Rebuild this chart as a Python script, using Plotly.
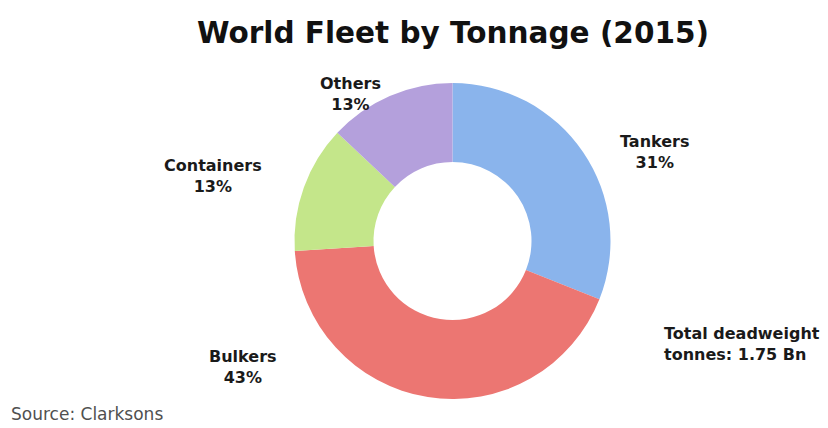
import plotly.graph_objects as go

categories = ["Tankers", "Bulkers", "Containers", "Others"]
shares = [31, 43, 13, 13]
colors = ["#8ab4ec", "#ec7672", "#c4e68a", "#b4a0dc"]

# the page has an 8px body margin; positions below are in page pixels
OFF = 8
W, H = 820, 420


def px2x(px):
    return (px - OFF) / W


def py2y(py):
    return 1 - (py - OFF) / H


cx, cy, r = 452.5, 241, 158

fig = go.Figure(go.Pie(
    labels=categories,
    values=shares,
    sort=False,
    direction="clockwise",
    rotation=0,
    hole=0.5,
    textinfo="none",
    marker=dict(colors=colors, line=dict(width=0)),
    domain=dict(x=[px2x(cx - r), px2x(cx + r)], y=[py2y(cy + r), py2y(cy - r)]),
    showlegend=False,
))

FONT = "DejaVu Sans, Open Sans, sans-serif"
label_pos = {
    "Tankers": (655, 152),
    "Bulkers": (243, 367),
    "Containers": (213, 176),
    "Others": (350, 94),
}
lab_font = dict(family=FONT, size=16, color="#1a1a1a")
for cat, val in zip(categories, shares):
    px, py = label_pos[cat]
    fig.add_annotation(x=px2x(px), y=py2y(py), xref="paper", yref="paper",
                       text=f"<b>{cat}<br>{val}%</b>", showarrow=False,
                       font=lab_font, align="center", xanchor="center", yanchor="middle")

fig.add_annotation(x=px2x(662), y=py2y(344), xref="paper", yref="paper",
                   text="<b>Total deadweight<br>tonnes: 1.75 Bn</b>", showarrow=False,
                   font=lab_font, align="left", xanchor="left", yanchor="middle")
fig.add_annotation(x=px2x(9), y=py2y(414), xref="paper", yref="paper",
                   text="Source: Clarksons", showarrow=False,
                   font=dict(family=FONT, size=17, color="#505050"),
                   xanchor="left", yanchor="middle")

fig.update_layout(
    width=W, height=H,
    margin=dict(l=0, r=0, t=0, b=0),
    paper_bgcolor="white",
    plot_bgcolor="white",
    title=dict(text="<b>World Fleet by Tonnage (2015)</b>", x=px2x(453), xanchor="center",
               y=py2y(33), yanchor="middle",
               font=dict(family=FONT, size=29.5, color="#111111")),
)

fig.write_html("out.html")
